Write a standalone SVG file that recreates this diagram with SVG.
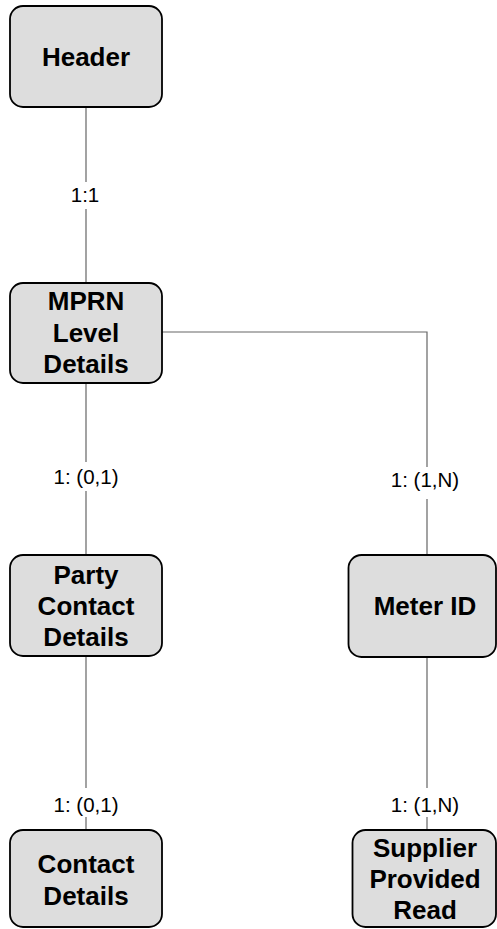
<svg xmlns="http://www.w3.org/2000/svg" width="497" height="929" viewBox="0 0 497 929">
<style>
.box{fill:#dddddd;stroke:#000;stroke-width:1.8}
.t{font-family:"Liberation Sans",Arial,sans-serif;font-weight:bold;font-size:26px;fill:#000;text-anchor:middle}
.lbl{font-family:"Liberation Sans",Arial,sans-serif;font-size:20.5px;fill:#000;text-anchor:middle}
.c{fill:none;stroke:#666;stroke-width:1.2}
</style>
<rect width="497" height="929" fill="#fff"/>
<g id="connectors">
<path class="c" d="M86 107V182M86 209V283"/>
<path class="c" d="M86 383V462M86 491V555"/>
<path class="c" d="M162 332H427V467M427 499V555"/>
<path class="c" d="M86 657V788M86 817V830"/>
<path class="c" d="M427 657V788M427 817V830"/>
<text class="lbl" x="85" y="202">1:1</text>
<text class="lbl" x="86" y="484">1: (0,1)</text>
<text class="lbl" x="425" y="487">1: (1,N)</text>
<text class="lbl" x="86" y="812">1: (0,1)</text>
<text class="lbl" x="425" y="812">1: (1,N)</text>
</g>
<g id="header">
<rect class="box" x="10" y="6" width="152" height="101" rx="13"/>
<text class="t" x="86" y="65.5">Header</text>
</g>
<g id="mprn">
<rect class="box" x="10" y="283" width="152" height="100" rx="13"/>
<text class="t" x="86" y="310">MPRN</text>
<text class="t" x="86" y="341.5">Level</text>
<text class="t" x="86" y="372.5">Details</text>
</g>
<g id="party">
<rect class="box" x="10" y="555" width="152" height="101" rx="13"/>
<text class="t" x="86" y="583.5">Party</text>
<text class="t" x="86" y="614.5">Contact</text>
<text class="t" x="86" y="645.5">Details</text>
</g>
<g id="meter">
<rect class="box" x="348.5" y="555" width="147.5" height="102" rx="13"/>
<text class="t" x="425" y="615">Meter ID</text>
</g>
<g id="contact">
<rect class="box" x="10" y="830" width="152" height="97" rx="13"/>
<text class="t" x="86" y="873">Contact</text>
<text class="t" x="86" y="904.5">Details</text>
</g>
<g id="supplier">
<rect class="box" x="352.5" y="830" width="143.5" height="97" rx="13"/>
<text class="t" x="425" y="857">Supplier</text>
<text class="t" x="425" y="888">Provided</text>
<text class="t" x="425" y="919">Read</text>
</g>
</svg>
